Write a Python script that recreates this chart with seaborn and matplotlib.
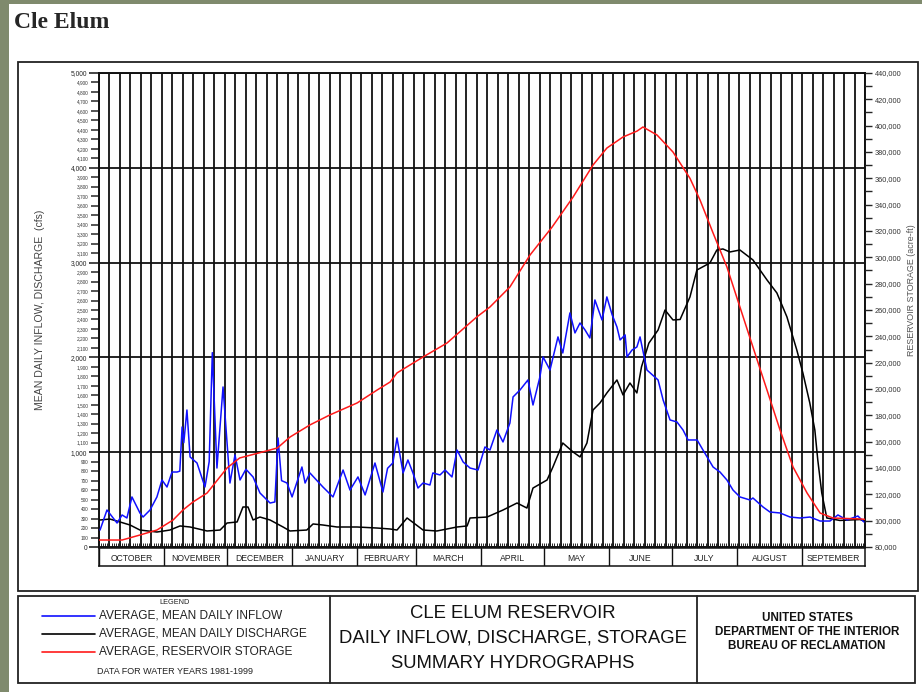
import matplotlib
matplotlib.use("Agg")
import matplotlib.pyplot as plt
import matplotlib.ticker as mticker
from matplotlib.patches import Rectangle
from matplotlib.lines import Line2D
import seaborn as sns

inflow_day = [0.5, 3.8, 8.6, 11, 13.3, 15.7, 19.5, 21, 24.3, 27.6, 30, 32.4, 34.8, 37.2,
              38.5, 39.6, 40.4, 41.9, 43.4, 46.7, 50.5, 52.5, 54, 56.2, 59.1, 62.4, 64.8,
              67.2, 70, 73.4, 76.7, 81.5, 83.8, 85.3, 87, 89.6, 92, 96.7, 98.2, 100.5,
              106.7, 111.5, 116.3, 119.6, 123.4, 126.8, 131.5, 135.3, 137.5, 140, 142,
              144.9, 147.2, 149.6, 152, 154.4, 157.7, 159.1, 162.5, 164.9, 168.2, 170.6,
              173.5, 176.8, 180.6, 183.9, 186.3, 189.6, 192.5, 195.8, 197.3, 200.6, 204.4,
              206.8, 210.1, 211.6, 214.9, 218.7, 221, 224.4, 226.8, 229.2, 231.6, 233.9,
              236.3, 239.7, 242, 244.5, 246.8, 248.3, 250.7, 251.6, 254, 256.3, 257.8,
              261.1, 266.4, 268.8, 272.1, 275.4, 278.3, 280.7, 285, 287.8, 292.6, 295.9,
              299.2, 302.1, 305.4, 310.2, 311.6, 316.4, 319.7, 324.5, 329.3, 334, 338.8,
              343.6, 348.3, 352.1, 356.4, 361.6, 364.5]
inflow_cfs = [179, 390, 253, 338, 306, 528, 359, 316, 390, 528, 707, 633, 791, 791,
              800, 1266, 1100, 1445, 950, 886, 633, 900, 2050, 833, 1688, 675, 971,
              707, 820, 739, 570, 464, 475, 1150, 700, 675, 528, 844, 675, 781,
              633, 528, 812, 601, 739, 549, 886, 580, 830, 886, 1150,
              781, 918, 781, 622, 675, 654, 781, 760, 812, 739, 1023,
              897, 833, 812, 1055, 1023, 1234, 1108, 1308, 1583, 1656, 1762,
              1498, 1794, 2005, 1867, 2216, 2047, 2469, 2258, 2363, 2289, 2205,
              2606, 2395, 2638, 2450, 2321, 2184, 2237, 2005, 2078, 2110, 2216,
              1867, 1762, 1551, 1340, 1319, 1234, 1129, 1129, 1023, 844, 791,
              707, 601, 528, 496, 517, 422, 369, 359, 316, 306, 316,
              274, 274, 338, 285, 327, 264]

discharge_day = [0.5, 5.2, 10, 14.8, 19.5, 27.6, 33.8, 38.6, 43.4, 51.5, 57.7, 61, 65.8,
                 68.6, 71, 73.4, 76.7, 81.5, 87.7, 91, 99, 102, 106.7, 113.4, 123, 132.5,
                 138.7, 142, 146.8, 154.4, 161, 170.6, 175.4, 176.8, 184.9, 192.5, 199.2,
                 203.9, 206.8, 213.5, 216.3, 221, 225.9, 229.2, 232.5, 235.4, 238.7, 242,
                 246.8, 249.7, 253, 256.3, 258.5, 262, 266.4, 269.7, 273.5, 276.9, 281.6,
                 284.9, 291.1, 294.4, 297.3, 300.6, 305.4, 311.6, 318.3, 323, 327.8, 332.5,
                 335.4, 338.7, 341.1, 342.5, 344.4, 346.8, 353, 362.6, 365]
discharge_cfs = [285, 295, 264, 232, 179, 158, 179, 222, 211, 169, 179, 253, 264,
                 422, 422, 285, 316, 285, 211, 169, 179, 243, 232, 211, 211, 200,
                 190, 179, 306, 179, 169, 211, 222, 306, 316, 390, 464,
                 411, 622, 707, 844, 1097, 1002, 950, 1097, 1445, 1519, 1625,
                 1762, 1604, 1730, 1625, 1900, 2150, 2289, 2500, 2395, 2400, 2638,
                 2922, 2996, 3133, 3144, 3112, 3133, 3028, 2817, 2680, 2427, 2078,
                 1836, 1519, 1234, 918, 570, 306, 280, 290, 270]

storage_day = [0, 11, 19.5, 27.6, 35.3, 40, 44.8, 51.5, 55.3, 61, 67, 78, 85, 91, 100.5,
               110, 123, 132.5, 138.7, 142, 154.4, 165.8, 180, 186.3, 195.8, 205.4, 215.9,
               225.9, 235.4, 242, 249.7, 256.4, 259.2, 265.9, 273.5, 281.6, 286.4, 292.6,
               299.2, 305.4, 311.6, 318.3, 324.5, 330.7, 337.4, 343.6, 349.8, 362.6, 365]
storage_af = [85300, 85300, 89100, 92900, 100500, 108100, 114200, 121000, 128600, 140000,
              147600, 152200, 155200, 163500, 172700, 180300, 189400, 199200, 205300,
              212200, 224300, 234900, 254700, 262300, 277500, 301800, 323000, 345800,
              370100, 383000, 391400, 395900, 399000, 392900, 380000, 360000, 343500,
              318500, 292700, 262300, 231900, 199200, 168900, 140800, 121000, 105800,
              102000, 101300, 101000]

months = ['OCTOBER', 'NOVEMBER', 'DECEMBER', 'JANUARY', 'FEBRUARY', 'MARCH',
          'APRIL', 'MAY', 'JUNE', 'JULY', 'AUGUST', 'SEPTEMBER']
month_len = [31, 30, 31, 31, 28, 31, 30, 31, 30, 31, 31, 30]

legend_labels = ['AVERAGE, MEAN DAILY INFLOW', 'AVERAGE, MEAN DAILY DISCHARGE',
                 'AVERAGE, RESERVOIR STORAGE']
title_lines = ['CLE ELUM RESERVOIR', 'DAILY INFLOW, DISCHARGE, STORAGE', 'SUMMARY HYDROGRAPHS']
agency_lines = ['UNITED STATES', 'DEPARTMENT OF THE INTERIOR', 'BUREAU OF RECLAMATION']

W, H = 922, 692


def fx(px):
    return px / W


def fy(py):
    return 1 - py / H


sns.set_style('white')
plt.rcParams['font.family'] = ['Liberation Sans', 'DejaVu Sans']

fig = plt.figure(figsize=(9.22, 6.92), dpi=100)
fig.patch.set_facecolor('#7f8a6d')
fig.add_artist(Rectangle((fx(9), 0), 1 - fx(9), fy(4), transform=fig.transFigure,
                         fc='white', ec='none', zorder=0))

fig.text(fx(14), fy(22), 'Cle Elum', family='Liberation Serif', fontsize=17,
         fontweight='bold', va='center', ha='left')

# frames
fig.add_artist(Rectangle((fx(18), fy(591)), fx(918) - fx(18), fy(62) - fy(591),
                         transform=fig.transFigure, fill=False, ec='#222', lw=1.3))
fig.add_artist(Rectangle((fx(18), fy(683)), fx(915) - fx(18), fy(596) - fy(683),
                         transform=fig.transFigure, fill=False, ec='#222', lw=1.3))
for xd in (330, 697):
    fig.add_artist(Line2D([fx(xd), fx(xd)], [fy(596), fy(683)], transform=fig.transFigure,
                          color='#222', lw=1.3))

# main plot
ax = fig.add_axes([fx(99), fy(547), fx(865) - fx(99), fy(73) - fy(547)])
ax.set_xlim(0, 365)
ax.set_ylim(0, 5000)
for d in range(0, 366, 5):
    ax.axvline(d, color='#111', lw=1.3, zorder=1)
for v in range(1000, 5001, 1000):
    ax.axhline(v, color='#111', lw=1.3, zorder=1)

sns.lineplot(x=discharge_day, y=discharge_cfs, ax=ax, color='black', linewidth=1.1,
             estimator=None, sort=False, zorder=3)
sns.lineplot(x=inflow_day, y=inflow_cfs, ax=ax, color='#1010ff', linewidth=1.1,
             estimator=None, sort=False, zorder=4)

ax.yaxis.set_major_locator(mticker.MultipleLocator(1000))
ax.yaxis.set_minor_locator(mticker.MultipleLocator(100))
fmt = mticker.FuncFormatter(lambda v, p: f'{v:,.0f}')
ax.yaxis.set_major_formatter(fmt)
ax.yaxis.set_minor_formatter(fmt)
ax.tick_params(axis='y', which='major', direction='out', length=7, width=1.2,
               labelsize=4.8, pad=1.5, right=False)
ax.tick_params(axis='y', which='minor', direction='out', length=6, width=1.1,
               labelsize=3.4, pad=1.5, labelcolor='#333', right=False)
ax.xaxis.set_major_locator(mticker.MultipleLocator(5))
ax.xaxis.set_minor_locator(mticker.MultipleLocator(1))
ax.tick_params(axis='x', which='both', direction='in', bottom=True, top=False,
               labelbottom=False, length=3, width=0.7)
ax.set_xlabel('')
ax.set_ylabel('')
for s in ax.spines.values():
    s.set_color('#111')
    s.set_linewidth(1.4)

ax2 = ax.twinx()
sns.lineplot(x=storage_day, y=storage_af, ax=ax2, color='#ff1a1a', linewidth=1.1,
             estimator=None, sort=False, zorder=5)
ax2.set_ylim(80000, 440000)
ax2.set_xlim(0, 365)
ax2.yaxis.set_major_locator(mticker.MultipleLocator(20000))
ax2.yaxis.set_minor_locator(mticker.MultipleLocator(10000))
ax2.yaxis.set_major_formatter(fmt)
ax2.tick_params(axis='y', which='major', direction='out', length=5, width=1.0,
                labelsize=5.3, pad=2, labelcolor='#333')
ax2.tick_params(axis='y', which='minor', direction='out', length=5, width=1.0)
ax2.set_ylabel('')
for s in ax2.spines.values():
    s.set_visible(False)

# month band below the plot
mx = fig.add_axes([fx(99), fy(566), fx(865) - fx(99), fy(548) - fy(566)])
mx.set_xlim(0, 365)
mx.set_ylim(0, 1)
mx.set_xticks([])
mx.set_yticks([])
for s in mx.spines.values():
    s.set_color('#111')
    s.set_linewidth(1.1)
start = 0
for name, n in zip(months, month_len):
    mx.axvline(start, color='#111', lw=1.0)
    mx.text(start + n / 2, 0.42, name, ha='center', va='center', fontsize=6.2, color='#222')
    start += n

fig.text(fx(40), fy(310), 'MEAN DAILY INFLOW, DISCHARGE  (cfs)', rotation=90,
         fontsize=7.6, color='#444', ha='center', va='center')
fig.text(fx(911), fy(290), 'RESERVOIR STORAGE (acre-ft)', rotation=90,
         fontsize=6.4, color='#555', ha='center', va='center')

# legend block
fig.text(fx(175), fy(603), 'LEGEND', fontsize=5.3, ha='center', va='center', color='#222')
for lbl, c, yy in zip(legend_labels, ['#1010ff', 'black', '#ff1a1a'], (616, 634, 652)):
    fig.add_artist(Line2D([fx(42), fx(95)], [fy(yy), fy(yy)], transform=fig.transFigure,
                          color=c, lw=1.2))
    fig.text(fx(99), fy(yy), lbl, fontsize=8.6, ha='left', va='center', color='#222')
fig.text(fx(175), fy(672), 'DATA FOR WATER YEARS 1981-1999', fontsize=6.5,
         ha='center', va='center', color='#222')

for t, yy in zip(title_lines, (613, 638, 663)):
    fig.text(fx(513), fy(yy), t, fontsize=13.3, ha='center', va='center', color='#111')
for t, yy in zip(agency_lines, (618, 632, 646)):
    fig.text(fx(807), fy(yy), t, fontsize=8.4, fontweight='bold', ha='center',
             va='center', color='#111')

plt.savefig('out.png', dpi=100, facecolor=fig.get_facecolor())
